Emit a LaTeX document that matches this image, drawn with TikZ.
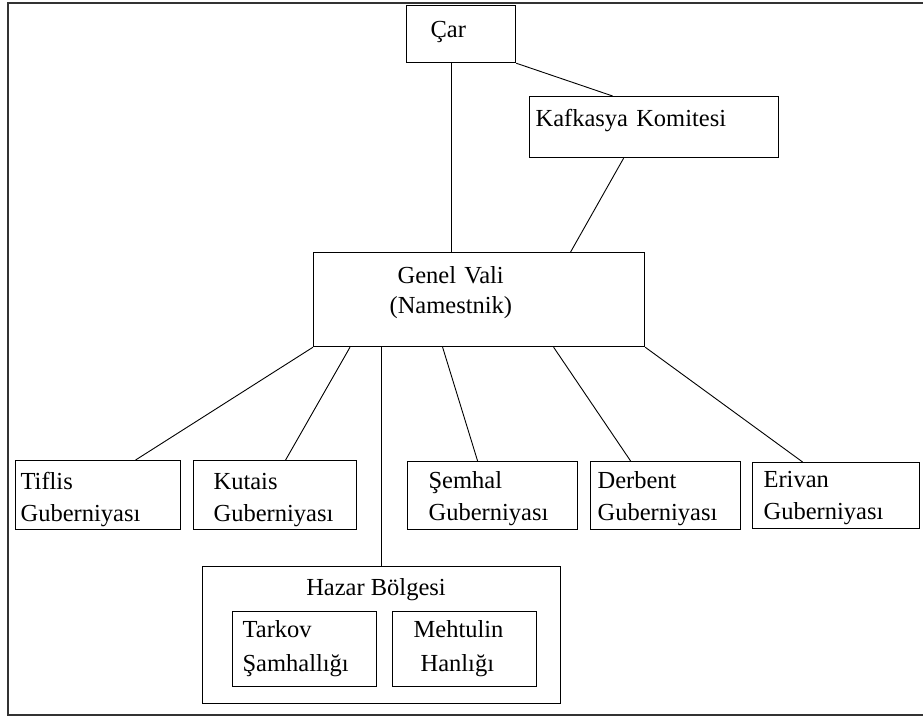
\documentclass[tikz,border=0pt]{standalone}
\usepackage{fontspec}
\setmainfont{Liberation Serif}
\hyphenpenalty=10000

\begin{document}
\begin{tikzpicture}[x=1pt,y=-1pt,line width=0.9pt]
       \tikzstyle{kutu}=[draw,line width=1.2pt,anchor=north west,inner ysep=0pt,align=left,
         font=\fontsize{24.5}{32}\selectfont]
       \useasboundingbox (0,0) rectangle (923,718);
       \draw[line width=2pt,black!80] (923,2.5) -- (7.5,2.5) -- (7.5,714.5) -- (923,714.5);

       \node[kutu,inner xsep=24pt,text width=61pt,text height=32pt,text depth=25pt] (car) at (406,5) {Çar};
       \node[kutu,inner xsep=6pt,text width=237pt,text height=30pt,text depth=31pt] (kk) at (529,96) {Kafkasya Komitesi};
       \node[kutu,inner xsep=76pt,text width=179pt,text height=31pt,text depth=63pt] (gv) at (313,252)
         {\hspace*{8pt}Genel Vali\\[-2pt](Namestnik)};

       \node[kutu,inner xsep=5pt,text width=155pt,text height=29pt,text depth=40pt] (g_1) at (15,460) {Tiflis\\Guberniyası};
       \node[kutu,inner xsep=20pt,text width=123pt,text height=29pt,text depth=40pt] (g_2) at (193,460) {Kutais\\Guberniyası};
       \node[kutu,inner xsep=21pt,text width=128pt,text height=27pt,text depth=41pt] (g_3) at (407,461) {Şemhal\\Guberniyası};
       \node[kutu,inner xsep=7pt,text width=136pt,text height=27pt,text depth=41pt] (g_4) at (590,461) {Derbent\\Guberniyası};
       \node[kutu,inner xsep=11pt,text width=145pt,text height=25pt,text depth=41pt] (g_5) at (752,462) {Erivan\\Guberniyası};

       \node[kutu,inner sep=0pt,minimum width=358pt,minimum height=137pt] (hz) at (202,566) {};
       \node[font=\fontsize{24.5}{32}\selectfont,anchor=base] (hz_a) at (376,595) {Hazar Bölgesi};
       \node[kutu,inner xsep=10pt,text width=124pt,text height=26pt,text depth=49pt] (tr) at (232,611) {Tarkov\\[2pt]Şamhallığı};
       \node[kutu,inner xsep=21pt,text width=102pt,text height=26pt,text depth=49pt] (mh) at (392,611)
         {Mehtulin\\[2pt]\hspace*{7pt}Hanlığı};

       \path
       ([xshift=-9.5pt]car.south) edge ([xshift=-27.5pt]gv.north)
       (car.south east) edge ([xshift=-41.5pt]kk.north)
       ([xshift=-30.5pt]kk.south) edge ([xshift=91.5pt]gv.north)
       (gv.south west) edge ([xshift=37.5pt]g_1.north)
       ([xshift=37pt]gv.south west) edge ([xshift=10.5pt]g_2.north)
       ([xshift=-97.5pt]gv.south) edge (hz.north)
       ([xshift=-36.5pt]gv.south) edge ([xshift=-15pt]g_3.north)
       ([xshift=74.5pt]gv.south) edge ([xshift=-35pt]g_4.north)
       (gv.south east) edge ([xshift=-33.5pt]g_5.north);
\end{tikzpicture}
\end{document}
